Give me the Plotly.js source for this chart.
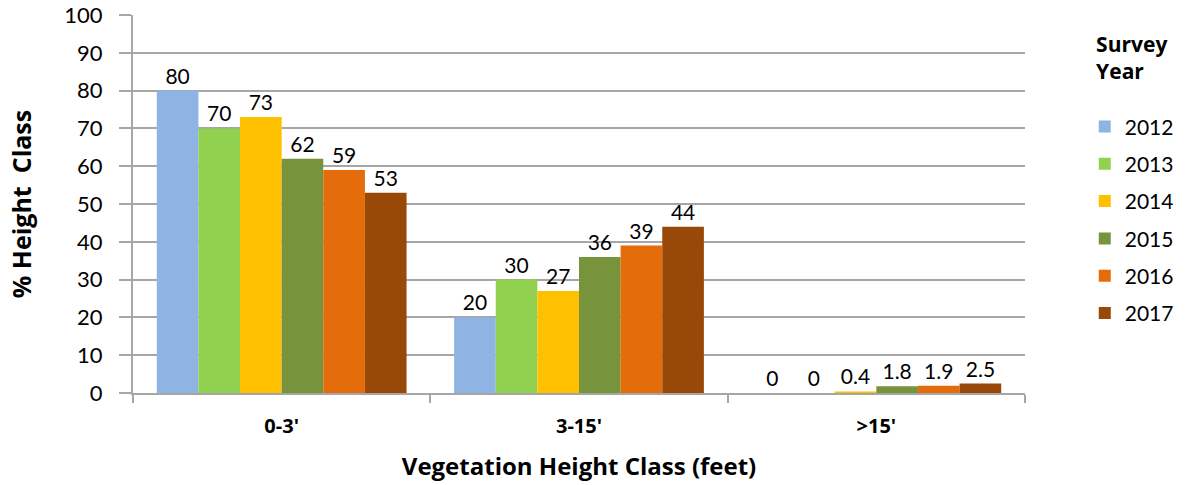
<!DOCTYPE html>
<html>
<head>
<meta charset="utf-8">
<script src="https://cdn.plot.ly/plotly-3.0.1.min.js"></script>
<style>html,body{margin:0;padding:0;background:#fff;}#chart{width:1185px;height:485px;}</style>
</head>
<body>
<div id="chart"></div>
<script>
const categories = ["0-3'", "3-15'", ">15'"];
const years = ["2012", "2013", "2014", "2015", "2016", "2017"];
const values2012 = [80, 20, 0];
const values2013 = [70, 30, 0];
const values2014 = [73, 27, 0.4];
const values2015 = [62, 36, 1.8];
const values2016 = [59, 39, 1.9];
const values2017 = [53, 44, 2.5];
const colors = ["#8DB4E2", "#92D050", "#FFC000", "#77933C", "#E46C0A", "#984807"];

const series = [values2012, values2013, values2014, values2015, values2016, values2017];
const traces = series.map((vals, i) => ({
  type: 'bar',
  name: years[i],
  x: categories,
  y: vals,
  text: vals.map(v => String(v)),
  textposition: 'outside',
  cliponaxis: false,
  textfont: {family: 'Lato, "Open Sans", sans-serif', size: 21, color: '#000'},
  marker: {color: colors[i], line: {width: 0}},
  legendgroup: 'g' + i,
  hoverinfo: 'x+y+name'
}));

const layout = {
  width: 1185, height: 485,
  margin: {l: 133, r: 160, t: 15, b: 92, autoexpand: false},
  paper_bgcolor: '#fff', plot_bgcolor: '#fff',
  barmode: 'group', bargap: 0.16, bargroupgap: 0,
  font: {family: 'Lato, "Open Sans", sans-serif', color: '#000'},
  xaxis: {
    type: 'category',
    tickson: 'boundaries',
    ticks: 'outside', ticklen: 8, tickcolor: '#A6A6A6', tickwidth: 2,
    showline: true, linecolor: '#A6A6A6', linewidth: 2,
    showgrid: false,
    ticklabelstandoff: 14,
    tickfont: {family: '"Open Sans", Lato, sans-serif', size: 20, weight: 'bold'},
    title: {text: 'Vegetation Height Class (feet)', font: {family: '"Open Sans", Lato, sans-serif', size: 24, weight: 'bold'}, standoff: 20}
  },
  yaxis: {
    range: [0, 100], dtick: 10,
    ticks: 'outside', ticklen: 12, tickcolor: '#A6A6A6', tickwidth: 2,
    showline: true, linecolor: '#A6A6A6', linewidth: 2,
    gridcolor: '#A6A6A6', gridwidth: 2,
    zeroline: false,
    ticklabelstandoff: 12,
    tickfont: {family: 'Lato, "Open Sans", sans-serif', size: 22},
    title: {text: '% Height  Class', font: {family: '"Open Sans", Lato, sans-serif', size: 25, weight: 'bold'}, standoff: 26}
  },
  legend: {
    x: 1.067, xanchor: 'left', y: 0.975, yanchor: 'top',
    maxheight: 470,
    traceorder: 'grouped', tracegroupgap: 7,
    font: {family: 'Lato, "Open Sans", sans-serif', size: 21},
    title: {text: 'Survey<br>Year<br> ', side: 'top center', font: {family: '"Open Sans", Lato, sans-serif', size: 21, weight: 'bold'}},
    itemwidth: 30
  },
  showlegend: true
};

Plotly.newPlot('chart', traces, layout, {staticPlot: true, displayModeBar: false});
</script>
</body>
</html>
